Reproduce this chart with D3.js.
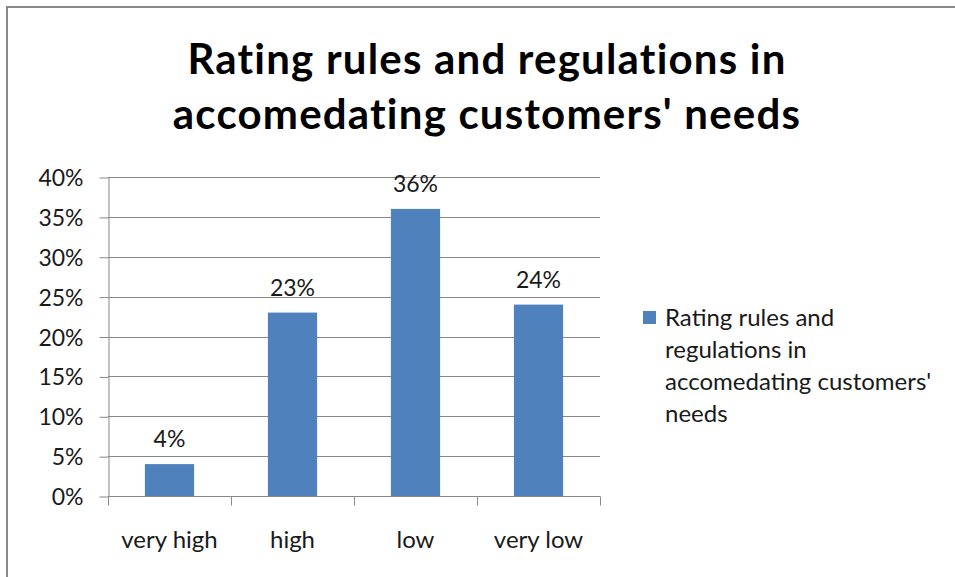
<!DOCTYPE html>
<html>
<head>
    <meta charset="utf-8">
    <title>Rating rules and regulations</title>
    <style>
        body { margin: 0; background: #fff; }
        svg text { font-family: Lato, "Open Sans", sans-serif; }
        .grid line { stroke: #888; stroke-width: 1px; }
        .axis path, .axis line { stroke: #888; }
        .axis text { fill: #1a1a1a; font-size: 23px; }
        .axis text.cat { font-size: 24px; }
        .bar { fill: #4f81bd; }
        .label { fill: #1a1a1a; font-size: 23px; }
        .title { font-weight: bold; font-size: 42px; fill: #000; letter-spacing: 1.2px; }
        .legend text { fill: #1a1a1a; font-size: 24px; }
    </style>
</head>
<body>
    <script src="https://d3js.org/d3.v7.min.js"></script>
    <script>
        const categories = ["very high", "high", "low", "very low"];
        const values = [0.04, 0.23, 0.36, 0.24];
        const yTicks = [0, 0.05, 0.10, 0.15, 0.20, 0.25, 0.30, 0.35, 0.40];
        const titleLines = ["Rating rules and regulations in", "accomedating customers' needs"];
        const legendLines = ["Rating rules and", "regulations in", "accomedating customers'", "needs"];

        const width = 955;
        const height = 577;
        const plot = { left: 108, right: 600, top: 177, bottom: 496 };

        const svg = d3.select("body").append("svg")
            .attr("width", width)
            .attr("height", height);

        // chart border (only top and left edges are visible in the crop)
        svg.append("rect")
            .attr("x", 7).attr("y", 7)
            .attr("width", width + 20).attr("height", height + 20)
            .attr("fill", "none")
            .attr("stroke", "#888")
            .attr("stroke-width", 2);

        svg.append("text")
            .attr("class", "title")
            .attr("text-anchor", "middle")
            .selectAll("tspan")
            .data(titleLines)
            .enter().append("tspan")
            .attr("x", 487)
            .attr("y", (d, i) => 74 + i * 55)
            .text(d => d);

        const x = d3.scaleBand()
            .domain(categories)
            .range([plot.left, plot.right])
            .paddingInner(0.6)
            .paddingOuter(0.3);

        const y = d3.scaleLinear()
            .domain([0, 0.40])
            .range([plot.bottom, plot.top]);

        // horizontal gridlines
        svg.append("g")
            .attr("class", "grid")
            .selectAll("line")
            .data(yTicks.slice(1))
            .enter().append("line")
            .attr("x1", plot.left)
            .attr("x2", plot.right)
            .attr("y1", d => Math.round(y(d)) + 0.5)
            .attr("y2", d => Math.round(y(d)) + 0.5);

        // y axis
        const yAxis = svg.append("g")
            .attr("class", "axis")
            .attr("transform", `translate(${plot.left + 0.5},0.5)`)
            .call(d3.axisLeft(y).tickValues(yTicks).tickFormat(d3.format(".0%")).tickSize(9).tickPadding(16).tickSizeOuter(0));
        yAxis.attr("font-family", null).attr("font-size", null);
        yAxis.selectAll("text").attr("dy", "0.35em");

        // x axis with ticks between categories
        const xAxis = svg.append("g")
            .attr("class", "axis")
            .attr("transform", `translate(0,${plot.bottom + 0.5})`);
        xAxis.append("line")
            .attr("x1", plot.left).attr("x2", plot.right);
        const bounds = [plot.left].concat(categories.map(c => x(c) + x.bandwidth() + x.step() * x.paddingInner() / 2));
        bounds[bounds.length - 1] = plot.right;
        xAxis.selectAll(".sep")
            .data(bounds)
            .enter().append("line")
            .attr("x1", d => Math.round(d) + 0.5).attr("x2", d => Math.round(d) + 0.5)
            .attr("y1", 0).attr("y2", 9);
        xAxis.selectAll(".cat")
            .data(categories)
            .enter().append("text")
            .attr("class", "cat")
            .attr("x", d => x(d) + x.bandwidth() / 2)
            .attr("y", 51)
            .attr("text-anchor", "middle")
            .text(d => d);

        // bars
        svg.selectAll(".bar")
            .data(values)
            .enter().append("rect")
            .attr("class", "bar")
            .attr("x", (d, i) => x(categories[i]))
            .attr("y", d => y(d))
            .attr("width", x.bandwidth())
            .attr("height", d => plot.bottom - y(d));

        // value labels
        svg.selectAll(".label")
            .data(values)
            .enter().append("text")
            .attr("class", "label")
            .attr("x", (d, i) => x(categories[i]) + x.bandwidth() / 2)
            .attr("y", d => y(d) - 17)
            .attr("text-anchor", "middle")
            .text(d => d3.format(".0%")(d));

        // legend
        const legend = svg.append("g").attr("class", "legend");
        legend.append("rect")
            .attr("x", 643).attr("y", 311)
            .attr("width", 13).attr("height", 13)
            .attr("fill", "#4f81bd");
        legend.append("text")
            .selectAll("tspan")
            .data(legendLines)
            .enter().append("tspan")
            .attr("x", 665)
            .attr("y", (d, i) => 326 + i * 32)
            .text(d => d);
    </script>
</body>
</html>
